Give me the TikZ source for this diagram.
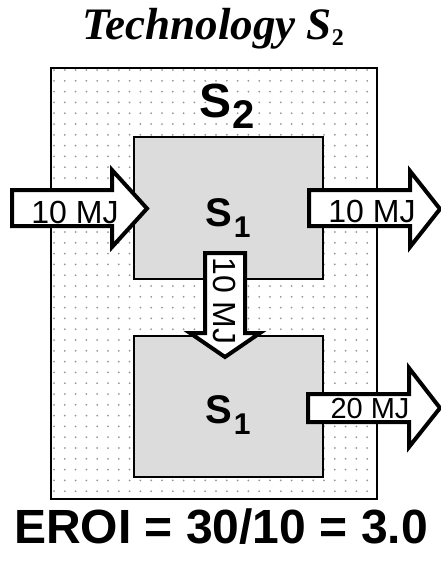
\documentclass[tikz,border=0pt]{standalone}
\usepackage{fontspec}
\setmainfont{Liberation Serif}
\setsansfont{Liberation Sans}
\begin{document}
\begin{tikzpicture}[x=1pt,y=-1pt,
  outerbox/.style={draw=black,line width=2pt},
  innerbox/.style={draw=black,fill=boxgray,line width=1.5pt},
  blockarrow/.style={draw=black,fill=white,line width=4pt,line join=miter,miter limit=10},
  flowlabel/.style={font=\sffamily\fontsize{32}{32}\selectfont,inner sep=0pt,anchor=base},
  sublabel/.style={font=\sffamily\bfseries\fontsize{40}{40}\selectfont,inner sep=0pt,anchor=base west},
  dot/.style={fill=dotgray}]
\definecolor{boxgray}{RGB}{220,220,220}
\definecolor{dotgray}{RGB}{150,150,150}
\useasboundingbox (0,0) rectangle (440,565);
% outer box with dotted pattern
\fill[white] (51,68) rectangle (377,499);
\foreach \i in {0,...,29}{
  \foreach \j in {0,...,39}{
    \fill[dot] (54+10.8*\i,70+10.8*\j) circle (1.0);
  }
}
\draw[outerbox] (51,68) rectangle (377,499);
% inner boxes
\draw[innerbox] (134,137) rectangle (323,279);
\draw[innerbox] (134,336) rectangle (323,477);
% title
\node[font=\fontsize{45}{45}\selectfont\bfseries\itshape,inner sep=0pt,anchor=base] (title) at (213,39)
  {Technology S\raisebox{-6pt}{\fontsize{24}{24}\selectfont\upshape 2}};
% labels
\node[font=\sffamily\bfseries\fontsize{48}{48}\selectfont,inner sep=0pt,anchor=base west] (s2) at (199,117)
  {S\kern1pt\raisebox{-11pt}{\fontsize{40}{40}\selectfont 2}};
\node[sublabel] (s1a) at (205,226)
  {S\kern2pt\raisebox{-11pt}{\fontsize{30}{30}\selectfont 1}};
\node[sublabel] (s1b) at (205,423)
  {S\kern2pt\raisebox{-11pt}{\fontsize{30}{30}\selectfont 1}};
% arrows
\draw[blockarrow] (12,190) -- (112,190) -- (112,170) -- (147,208.5) -- (112,247) -- (112,226) -- (12,226) -- cycle;
\node[flowlabel] (inflow) at (75,223) {10 MJ};
\draw[blockarrow] (309,190) -- (410,190) -- (410,171) -- (440,209) -- (410,247) -- (410,226) -- (309,226) -- cycle;
\node[flowlabel] (outflow) at (372,222) {10 MJ};
\draw[blockarrow] (205,253) -- (245,253) -- (245,333) -- (260,333) -- (225,357) -- (190,333) -- (205,333) -- cycle;
\node[font=\sffamily\fontsize{32}{32}\selectfont,inner sep=0pt,rotate=-90] (internal) at (225,301) {10 MJ};
\draw[blockarrow] (308,394) -- (409,394) -- (409,368) -- (440,408) -- (409,447) -- (409,422) -- (308,422) -- cycle;
\node[flowlabel,font=\sffamily\fontsize{29}{29}\selectfont] (outflow2) at (370,418) {20 MJ};
% EROI
\node[font=\sffamily\bfseries\fontsize{48}{48}\selectfont,inner sep=0pt,anchor=base] (eroi) at (221,543) {EROI = 30/10 = 3.0};
\end{tikzpicture}
\end{document}
